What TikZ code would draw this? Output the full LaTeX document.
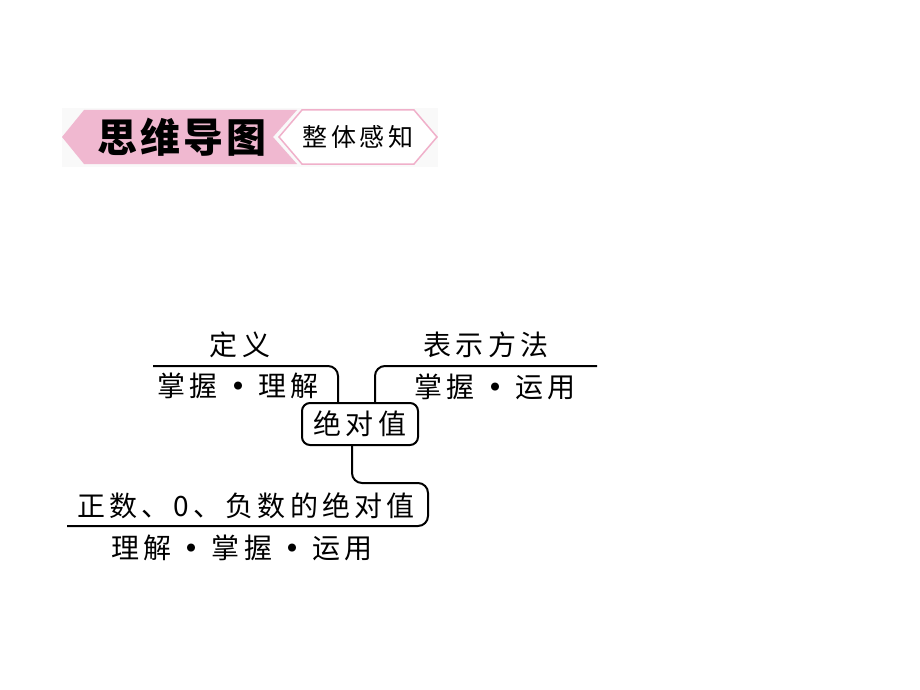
\documentclass[tikz,border=0pt]{standalone}
\usepackage{fontspec}
\newfontfamily\cjk[LetterSpace=15]{Noto Sans CJK SC}
\newfontfamily\cjkhead[LetterSpace=8]{Noto Sans CJK SC}
\newfontfamily\cjkplain{Noto Sans CJK SC}
\newcommand\bdot[1]{\makebox[#1]{\raisebox{-4pt}{\cjkplain\fontsize{38}{38}\selectfont •}}}
\definecolor{pinkfill}{RGB}{240,184,208}
\definecolor{pinkline}{RGB}{240,176,202}
\begin{document}
\begin{tikzpicture}[x=1pt,y=-1pt,
  conn/.style={line width=2pt, rounded corners=10pt},
  lbl/.style={font=\cjk\fontsize{28}{30}\selectfont, inner sep=0pt},
]
\useasboundingbox[fill=white] (0,0) rectangle (920,690);
% banner
\fill[gray!5] (62,108) rectangle (438,167);
\fill[pinkfill] (62,137) -- (84,110) -- (297,110) -- (273,137) -- (297,164) -- (84,164) -- cycle;
\filldraw[fill=white, draw=pinkline, line width=1.5pt] (279,137) -- (302,110) -- (414,110) -- (437,137) -- (414,164) -- (302,164) -- cycle;
\node[inner sep=0pt, font=\cjkhead\bfseries\fontsize{40}{42}\selectfont] (head) at (182,137) {思维导图};
\node[inner sep=0pt, font=\cjk\fontsize{25}{27}\selectfont] (sub) at (358,137) {整体感知};
% centre
\node[draw, line width=2pt, rounded corners=8pt, minimum width=116pt, minimum height=42pt, inner sep=0pt, font=\cjk\fontsize{28}{30}\selectfont] (abs) at (360,424) {绝对值};
% labels
\node[lbl] (def) at (240,345) {定义};
\node[lbl] (defs) at (238,387) {掌握\bdot{40pt}理解};
\node[lbl] (rep) at (486,345) {表示方法};
\node[lbl] (reps) at (495,388) {掌握\bdot{40pt}运用};
\node[lbl] (val) at (246,506) {正数、0、负数的绝对值};
\node[lbl] (vals) at (242,549) {理解\bdot{40pt}掌握\bdot{40pt}运用};
% connectors
\coordinate (dl) at (153,366);
\coordinate (dr) at (597,366);
\coordinate (bl) at (67,526);
\coordinate (bk) at (428,483);
\draw[conn] (dl) -| ([xshift=-22pt]abs.north);
\draw[conn] (dr) -| ([xshift=15pt]abs.north);
\draw[conn] ([xshift=-8pt]abs.south) |- (bk) |- (bl);
\end{tikzpicture}
\end{document}
